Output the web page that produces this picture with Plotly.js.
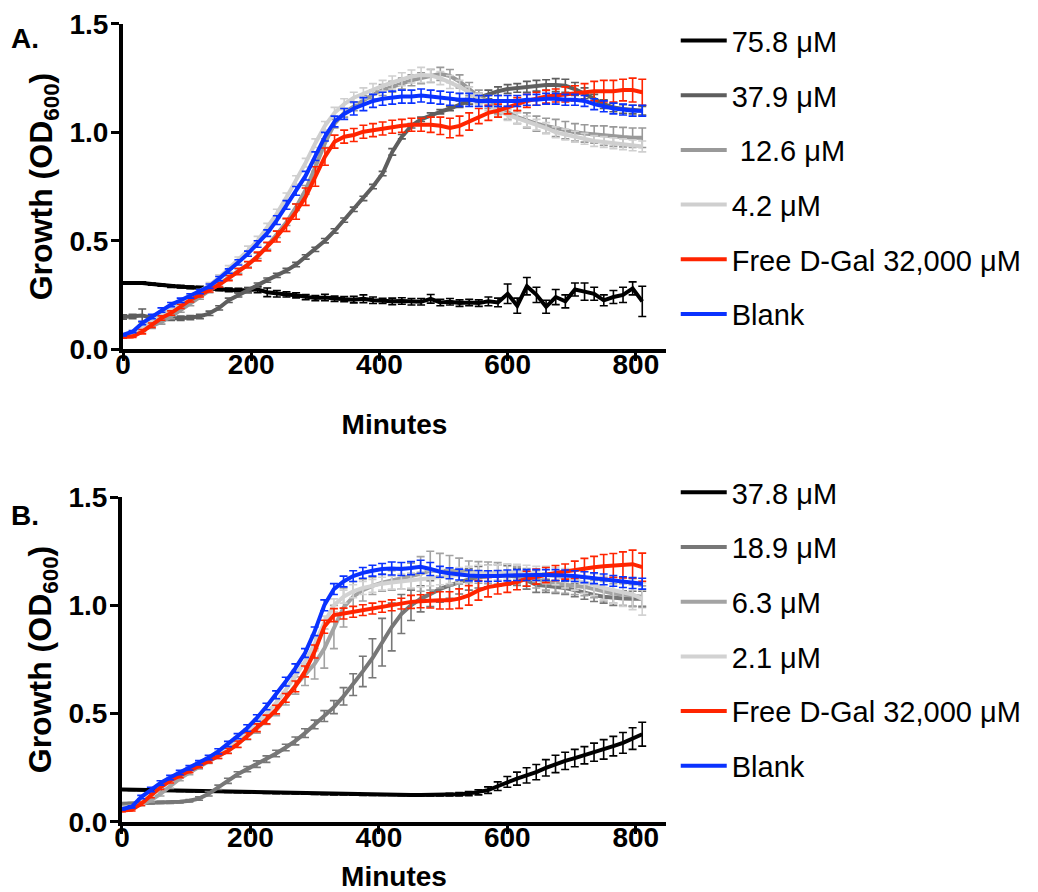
<!DOCTYPE html>
<html>
<head>
<meta charset="utf-8">
<script src="https://cdn.plot.ly/plotly-3.0.1.min.js"></script>
<style>html,body{margin:0;padding:0;background:#fff;}#chart{width:1038px;height:892px;}</style>
</head>
<body>
<div id="chart"></div>
<script>
// ---------------- DATA ----------------
const minutes = [0,15,30,45,60,75,90,105,120,135,150,165,180,195,210,225,240,255,270,285,300,315,330,345,360,375,390,405,420,435,450,465,480,495,510,525,540,555,570,585,600,615,630,645,660,675,690,705,720,735,750,765,780,795,810];
const xTickVals = [0,200,400,600,800];
const yTickVals = [0,0.5,1.0,1.5];
const yTickText = ['0.0','0.5','1.0','1.5'];

// Panel A
const namesA = ['75.8 \u03bcM','37.9 \u03bcM',' 12.6 \u03bcM','4.2 \u03bcM','Free D-Gal 32,000 \u03bcM','Blank'];
const a_758 = [0.305,0.305,0.305,0.300,0.295,0.290,0.288,0.285,0.282,0.280,0.277,0.273,0.270,0.272,0.275,0.262,0.255,0.252,0.248,0.240,0.235,0.238,0.232,0.230,0.228,0.232,0.225,0.222,0.220,0.222,0.218,0.218,0.232,0.215,0.218,0.212,0.215,0.212,0.220,0.215,0.255,0.200,0.290,0.250,0.195,0.240,0.220,0.275,0.265,0.255,0.225,0.240,0.250,0.280,0.220];
const a_758_err = [0.005,0.005,0.005,0.005,0.005,0.006,0.006,0.006,0.007,0.007,0.008,0.008,0.010,0.012,0.015,0.020,0.015,0.012,0.012,0.012,0.012,0.015,0.012,0.012,0.015,0.018,0.015,0.012,0.015,0.015,0.015,0.015,0.020,0.015,0.015,0.015,0.015,0.015,0.020,0.020,0.045,0.035,0.040,0.035,0.030,0.035,0.030,0.030,0.040,0.030,0.025,0.030,0.035,0.030,0.070];
const a_379 = [0.148,0.150,0.155,0.145,0.142,0.142,0.142,0.145,0.150,0.165,0.190,0.225,0.250,0.272,0.295,0.318,0.340,0.362,0.390,0.425,0.460,0.500,0.545,0.595,0.645,0.695,0.750,0.810,0.910,0.980,1.030,1.060,1.080,1.095,1.110,1.130,1.145,1.160,1.175,1.190,1.200,1.205,1.210,1.215,1.218,1.218,1.215,1.200,1.180,1.155,1.130,1.115,1.108,1.105,1.100];
const a_379_err = [0.01,0.01,0.03,0.01,0.01,0.01,0.01,0.01,0.01,0.01,0.01,0.01,0.01,0.01,0.01,0.01,0.01,0.01,0.01,0.01,0.01,0.01,0.01,0.01,0.01,0.01,0.01,0.01,0.015,0.01,0.01,0.01,0.01,0.01,0.01,0.015,0.015,0.02,0.02,0.02,0.02,0.02,0.025,0.025,0.025,0.03,0.03,0.03,0.025,0.02,0.02,0.02,0.02,0.02,0.02];
const a_126 = [0.065,0.072,0.088,0.105,0.125,0.150,0.180,0.210,0.240,0.270,0.300,0.330,0.360,0.390,0.430,0.475,0.530,0.585,0.655,0.735,0.840,0.950,1.040,1.090,1.120,1.150,1.175,1.195,1.210,1.225,1.240,1.250,1.260,1.270,1.260,1.235,1.200,1.165,1.140,1.115,1.090,1.070,1.055,1.040,1.030,1.020,1.010,1.000,0.995,0.990,0.985,0.980,0.978,0.975,0.975];
const a_126_err = [0.005,0.005,0.008,0.01,0.01,0.01,0.01,0.01,0.01,0.01,0.01,0.01,0.01,0.012,0.012,0.015,0.015,0.015,0.015,0.02,0.02,0.02,0.02,0.02,0.02,0.02,0.02,0.025,0.025,0.025,0.025,0.025,0.03,0.03,0.03,0.03,0.03,0.03,0.03,0.03,0.03,0.03,0.035,0.035,0.035,0.04,0.04,0.04,0.04,0.04,0.045,0.045,0.045,0.045,0.045];
const a_42 = [0.060,0.075,0.100,0.130,0.160,0.190,0.215,0.240,0.265,0.295,0.330,0.370,0.410,0.455,0.500,0.560,0.625,0.700,0.780,0.860,0.950,1.030,1.090,1.130,1.160,1.180,1.200,1.215,1.230,1.245,1.258,1.265,1.262,1.250,1.232,1.210,1.185,1.155,1.125,1.100,1.080,1.065,1.050,1.035,1.020,1.000,0.990,0.980,0.970,0.960,0.955,0.950,0.945,0.940,0.935];
const a_42_err = [0.005,0.005,0.008,0.01,0.01,0.01,0.01,0.01,0.01,0.012,0.012,0.015,0.015,0.02,0.02,0.02,0.02,0.02,0.02,0.02,0.02,0.02,0.025,0.025,0.025,0.025,0.025,0.025,0.03,0.03,0.03,0.035,0.03,0.03,0.03,0.03,0.025,0.025,0.025,0.025,0.025,0.025,0.025,0.025,0.025,0.025,0.025,0.025,0.025,0.025,0.025,0.025,0.025,0.025,0.025];
const a_gal = [0.055,0.058,0.080,0.110,0.143,0.166,0.197,0.227,0.250,0.273,0.296,0.327,0.358,0.389,0.427,0.473,0.519,0.573,0.634,0.703,0.796,0.888,0.957,0.980,0.988,1.003,1.010,1.018,1.026,1.030,1.035,1.035,1.035,1.030,1.020,1.030,1.050,1.075,1.090,1.100,1.115,1.130,1.145,1.155,1.165,1.170,1.175,1.180,1.185,1.190,1.190,1.190,1.195,1.195,1.185];
const a_gal_err = [0.005,0.005,0.01,0.01,0.01,0.01,0.01,0.01,0.01,0.01,0.01,0.012,0.015,0.015,0.02,0.02,0.025,0.03,0.035,0.04,0.045,0.04,0.03,0.03,0.03,0.03,0.03,0.03,0.03,0.03,0.03,0.03,0.035,0.04,0.045,0.045,0.04,0.035,0.035,0.03,0.03,0.03,0.03,0.03,0.03,0.03,0.035,0.035,0.04,0.045,0.05,0.05,0.05,0.055,0.06];
const a_blank = [0.065,0.080,0.120,0.150,0.180,0.205,0.225,0.245,0.265,0.290,0.325,0.360,0.400,0.440,0.485,0.535,0.595,0.665,0.730,0.800,0.890,0.980,1.050,1.085,1.110,1.130,1.145,1.155,1.160,1.165,1.165,1.170,1.165,1.160,1.155,1.150,1.150,1.145,1.145,1.145,1.145,1.145,1.150,1.150,1.155,1.155,1.150,1.150,1.145,1.130,1.120,1.110,1.105,1.100,1.100];
const a_blank_err = [0.005,0.005,0.008,0.01,0.01,0.01,0.01,0.01,0.01,0.01,0.01,0.01,0.012,0.012,0.015,0.015,0.02,0.02,0.02,0.02,0.02,0.02,0.025,0.025,0.03,0.03,0.03,0.03,0.03,0.03,0.03,0.03,0.03,0.03,0.03,0.03,0.03,0.025,0.025,0.025,0.025,0.025,0.025,0.025,0.025,0.025,0.025,0.025,0.025,0.025,0.025,0.025,0.025,0.025,0.025];

// Panel B
const namesB = ['37.8 \u03bcM','18.9 \u03bcM','6.3 \u03bcM','2.1 \u03bcM','Free D-Gal 32,000 \u03bcM','Blank'];
const b_378 = [0.150,0.149,0.148,0.147,0.146,0.145,0.144,0.143,0.142,0.141,0.140,0.139,0.138,0.137,0.136,0.135,0.134,0.133,0.132,0.131,0.130,0.129,0.128,0.128,0.127,0.126,0.126,0.125,0.125,0.124,0.124,0.124,0.124,0.125,0.126,0.128,0.131,0.137,0.147,0.165,0.185,0.200,0.215,0.230,0.250,0.268,0.282,0.295,0.308,0.322,0.335,0.350,0.365,0.385,0.405];
const b_378_err = [0.003,0.003,0.003,0.003,0.003,0.003,0.003,0.003,0.003,0.003,0.003,0.003,0.003,0.003,0.003,0.003,0.003,0.003,0.003,0.003,0.003,0.003,0.003,0.003,0.003,0.003,0.003,0.003,0.003,0.003,0.003,0.003,0.004,0.005,0.006,0.008,0.010,0.012,0.015,0.020,0.025,0.030,0.035,0.035,0.038,0.040,0.040,0.040,0.040,0.042,0.045,0.045,0.048,0.050,0.055];
const b_189 = [0.084,0.085,0.087,0.088,0.090,0.091,0.093,0.098,0.108,0.130,0.160,0.190,0.220,0.244,0.267,0.290,0.316,0.344,0.374,0.410,0.450,0.489,0.530,0.580,0.634,0.695,0.756,0.830,0.900,0.960,1.000,1.030,1.054,1.075,1.092,1.107,1.120,1.130,1.135,1.138,1.138,1.132,1.115,1.095,1.090,1.085,1.080,1.070,1.058,1.048,1.040,1.035,1.032,1.030,1.030];
const b_189_err = [0.005,0.005,0.005,0.005,0.005,0.005,0.005,0.005,0.008,0.01,0.01,0.012,0.012,0.012,0.015,0.015,0.015,0.015,0.018,0.02,0.02,0.025,0.03,0.04,0.05,0.07,0.09,0.11,0.11,0.09,0.07,0.06,0.06,0.06,0.06,0.055,0.05,0.05,0.05,0.05,0.045,0.04,0.04,0.035,0.03,0.03,0.03,0.03,0.03,0.03,0.03,0.035,0.035,0.035,0.035];
const b_63 = [0.070,0.072,0.080,0.100,0.130,0.165,0.200,0.228,0.255,0.280,0.305,0.330,0.360,0.395,0.430,0.470,0.515,0.570,0.630,0.680,0.730,0.800,0.900,0.990,1.040,1.070,1.090,1.105,1.115,1.125,1.135,1.145,1.160,1.160,1.160,1.158,1.155,1.152,1.150,1.148,1.145,1.140,1.130,1.120,1.110,1.100,1.095,1.090,1.085,1.075,1.065,1.055,1.050,1.045,1.040];
const b_63_err = [0.005,0.005,0.005,0.008,0.01,0.01,0.01,0.01,0.01,0.01,0.012,0.012,0.015,0.015,0.02,0.02,0.025,0.03,0.04,0.05,0.07,0.09,0.10,0.09,0.07,0.05,0.04,0.04,0.045,0.05,0.06,0.08,0.09,0.08,0.07,0.06,0.05,0.05,0.05,0.05,0.045,0.04,0.04,0.04,0.04,0.04,0.04,0.04,0.04,0.04,0.045,0.045,0.05,0.05,0.05];
const b_21 = [0.065,0.070,0.090,0.125,0.160,0.190,0.215,0.240,0.265,0.290,0.315,0.345,0.378,0.415,0.455,0.500,0.550,0.610,0.675,0.740,0.820,0.920,1.000,1.040,1.065,1.080,1.090,1.100,1.105,1.110,1.115,1.120,1.125,1.130,1.135,1.140,1.145,1.150,1.150,1.152,1.155,1.155,1.150,1.145,1.140,1.135,1.125,1.115,1.105,1.095,1.080,1.070,1.060,1.050,1.030];
const b_21_err = [0.005,0.005,0.008,0.01,0.01,0.01,0.01,0.01,0.01,0.01,0.012,0.012,0.015,0.015,0.02,0.02,0.02,0.02,0.025,0.025,0.03,0.03,0.03,0.03,0.03,0.03,0.03,0.03,0.03,0.035,0.035,0.035,0.035,0.035,0.035,0.035,0.035,0.035,0.035,0.035,0.035,0.035,0.035,0.035,0.04,0.04,0.045,0.045,0.05,0.05,0.055,0.06,0.065,0.07,0.075];
const b_gal = [0.053,0.056,0.084,0.122,0.160,0.190,0.214,0.237,0.260,0.283,0.305,0.328,0.359,0.397,0.435,0.473,0.519,0.573,0.626,0.695,0.787,0.901,0.955,0.962,0.970,0.978,0.985,0.993,1.000,1.008,1.016,1.019,1.023,1.023,1.023,1.031,1.046,1.069,1.084,1.092,1.100,1.107,1.123,1.133,1.140,1.149,1.156,1.164,1.172,1.176,1.180,1.184,1.187,1.190,1.176];
const b_gal_err = [0.005,0.005,0.008,0.01,0.01,0.01,0.01,0.01,0.01,0.01,0.012,0.012,0.015,0.015,0.018,0.02,0.02,0.02,0.025,0.025,0.03,0.03,0.03,0.025,0.025,0.025,0.025,0.025,0.025,0.025,0.03,0.03,0.035,0.04,0.04,0.045,0.045,0.045,0.045,0.04,0.04,0.035,0.035,0.035,0.035,0.035,0.035,0.04,0.045,0.05,0.055,0.055,0.06,0.065,0.065];
const b_blank = [0.060,0.070,0.115,0.150,0.180,0.205,0.228,0.250,0.273,0.298,0.326,0.360,0.396,0.434,0.480,0.533,0.587,0.648,0.710,0.780,0.880,1.000,1.075,1.110,1.135,1.150,1.160,1.168,1.170,1.168,1.172,1.178,1.168,1.155,1.148,1.142,1.138,1.136,1.135,1.136,1.138,1.140,1.140,1.140,1.140,1.140,1.138,1.135,1.130,1.125,1.120,1.113,1.107,1.103,1.100];
const b_blank_err = [0.005,0.005,0.008,0.01,0.01,0.01,0.01,0.01,0.01,0.01,0.012,0.012,0.012,0.015,0.015,0.015,0.018,0.02,0.02,0.02,0.02,0.025,0.025,0.025,0.025,0.025,0.025,0.025,0.03,0.03,0.03,0.03,0.03,0.025,0.025,0.025,0.025,0.025,0.025,0.025,0.025,0.025,0.025,0.025,0.025,0.025,0.025,0.025,0.025,0.025,0.025,0.025,0.025,0.025,0.025];

// ---------------- STYLE ----------------
const colorsA = ['#000000','#5e5e5e','#999999','#cfcfcf','#ff2400','#0a32ff'];
const colorsB = ['#000000','#777777','#a3a3a3','#d2d2d2','#ff2400','#0a32ff'];
const FONT = '"Liberation Sans", Arial, Helvetica, sans-serif';

const seriesA = [a_758, a_379, a_126, a_42, a_gal, a_blank];
const errA = [a_758_err, a_379_err, a_126_err, a_42_err, a_gal_err, a_blank_err];
const seriesB = [b_378, b_189, b_63, b_21, b_gal, b_blank];
const errB = [b_378_err, b_189_err, b_63_err, b_21_err, b_gal_err, b_blank_err];

function makeTraces(names, series, errs, colors, xa, ya, legendId, grp) {
  return series.map((vals, i) => ({
    type: 'scatter', mode: 'lines',
    x: minutes, y: vals, name: names[i],
    xaxis: xa, yaxis: ya, legend: legendId,
    legendgroup: grp + i,
    line: {color: colors[i], width: 4},
    error_y: {type: 'data', array: errs[i], visible: true, color: colors[i], thickness: 1.6, width: 4},
    hoverinfo: 'skip'
  }));
}

const traces = [
  ...makeTraces(namesA, seriesA, errA, colorsA, 'x', 'y', 'legend', 'a'),
  ...makeTraces(namesB, seriesB, errB, colorsB, 'x2', 'y2', 'legend2', 'b')
];

function xAxis(domain, anchor, standoff) {
  return {
    domain: domain, anchor: anchor, range: [0, 847], tickvals: xTickVals,
    ticks: 'outside', ticklen: 8, tickwidth: 3, tickcolor: '#000',
    ticklabelstandoff: -21,
    showline: true, linewidth: 4, linecolor: '#000', showgrid: false, zeroline: false,
    tickfont: {family: FONT, size: 28, color: '#000', weight: 'bold'},
    title: {text: 'Minutes', font: {family: FONT, size: 28, color: '#000', weight: 'bold'}, standoff: standoff},
    automargin: false, fixedrange: true
  };
}
function yAxis(domain, anchor) {
  return {
    domain: domain, anchor: anchor, range: [0, 1.5], tickvals: yTickVals, ticktext: yTickText,
    ticks: 'outside', ticklen: 8, tickwidth: 3, tickcolor: '#000',
    ticklabelstandoff: -3,
    showline: true, linewidth: 4, linecolor: '#000', showgrid: false, zeroline: false,
    tickfont: {family: FONT, size: 28, color: '#000', weight: 'bold'},
    title: {text: 'Growth (OD<sub>600</sub>)', font: {family: FONT, size: 32, color: '#000', weight: 'bold'}, standoff: 8},
    automargin: false, fixedrange: true
  };
}
function legendBox(yTop) {
  return {
    x: 0.651, xanchor: 'left', y: yTop, yanchor: 'top',
    font: {family: FONT, size: 29, color: '#000'},
    bgcolor: 'rgba(0,0,0,0)', borderwidth: 0,
    traceorder: 'grouped', tracegroupgap: 14, itemwidth: 46
  };
}

const layout = {
  width: 1038, height: 892,
  margin: {l: 0, r: 0, t: 0, b: 0},
  paper_bgcolor: '#ffffff', plot_bgcolor: '#ffffff',
  showlegend: true, hovermode: false,
  xaxis: xAxis([0.1185, 0.6416], 'y', 37),
  yaxis: yAxis([0.6087, 0.9731], 'x'),
  xaxis2: xAxis([0.1175, 0.6416], 'y2', 18),
  yaxis2: yAxis([0.0785, 0.4428], 'x2'),
  legend: legendBox(0.983),
  legend2: legendBox(0.4765),
  annotations: [
    {text: 'A.', xref: 'paper', yref: 'paper', x: 0.009, y: 0.957, xanchor: 'left', yanchor: 'middle', showarrow: false,
     font: {family: FONT, size: 28, color: '#000', weight: 'bold'}},
    {text: 'B.', xref: 'paper', yref: 'paper', x: 0.009, y: 0.4226, xanchor: 'left', yanchor: 'middle', showarrow: false,
     font: {family: FONT, size: 28, color: '#000', weight: 'bold'}}
  ]
};

Plotly.newPlot('chart', traces, layout, {staticPlot: true, displayModeBar: false});
</script>
</body>
</html>
